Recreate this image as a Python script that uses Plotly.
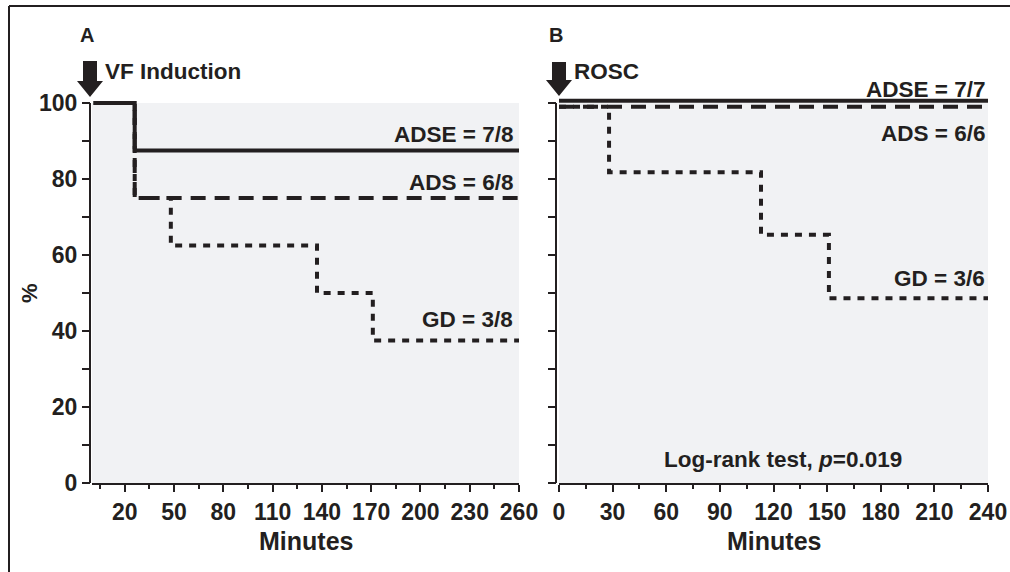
import plotly.graph_objects as go

# ---------------- data ----------------
# Panel A (from VF induction)
a_adse_t = [1, 26, 260]
a_adse_s = [100, 87.5, 87.5]
a_ads_t = [1, 26, 260]
a_ads_s = [100, 75, 75]
a_gd_t = [1, 26, 48, 137, 171, 260]
a_gd_s = [100, 75, 62.5, 50, 37.5, 37.5]

# Panel B (from ROSC)
b_adse_t = [0, 240]
b_adse_s = [100.6, 100.6]
b_ads_t = [0, 240]
b_ads_s = [99, 99]
b_gd_t = [0, 28, 113, 151, 240]
b_gd_s = [99, 81.8, 65.3, 48.6, 48.6]

a_xticks = [20, 50, 80, 110, 140, 170, 200, 230, 260]
b_xticks = [0, 30, 60, 90, 120, 150, 180, 210, 240]
y_ticks = [0, 20, 40, 60, 80, 100]

labels_a = ["ADSE = 7/8", "ADS = 6/8", "GD = 3/8"]
labels_a_y = [91.6, 79.2, 42.9]
labels_b = ["ADSE = 7/7", "ADS = 6/6", "GD = 3/6"]
labels_b_y = [103.6, 92.0, 53.7]

# ---------------- layout helpers ----------------
W, H = 1010, 572
BLK = "#231f20"
BG = "#f1f2f4"
FONT = "Liberation Sans, Arial, Helvetica, sans-serif"
YMAX = 102  # a little headroom so the lines drawn at 100 are not clipped


def px(x):
    return x / W


def py(y):
    return 1 - y / H


fig = go.Figure()

styles = {
    "ADSE": dict(color=BLK, width=4, dash="solid"),
    "ADS": dict(color=BLK, width=4, dash="15px,9px"),
    "GD": dict(color=BLK, width=4, dash="7px,7px"),
}

for t, s, name in [(a_gd_t, a_gd_s, "GD"), (a_ads_t, a_ads_s, "ADS"), (a_adse_t, a_adse_s, "ADSE")]:
    fig.add_trace(go.Scatter(x=t, y=s, mode="lines", line=dict(shape="hv", **styles[name]),
                             xaxis="x", yaxis="y", cliponaxis=False, showlegend=False))
for t, s, name in [(b_gd_t, b_gd_s, "GD"), (b_ads_t, b_ads_s, "ADS"), (b_adse_t, b_adse_s, "ADSE")]:
    fig.add_trace(go.Scatter(x=t, y=s, mode="lines", line=dict(shape="hv", **styles[name]),
                             xaxis="x2", yaxis="y2", cliponaxis=False, showlegend=False))

ppu = (483 - 103) / 100.0  # pixels per % unit
ydom = [py(483), py(483 - YMAX * ppu)]
tickfont = dict(family=FONT, size=23, color=BLK, weight="bold")

common_x = dict(showgrid=False, zeroline=False, showline=True, linewidth=2, linecolor=BLK,
                ticks="outside", ticklen=7, tickwidth=2, tickcolor=BLK, tickfont=tickfont,
                fixedrange=True, automargin=False)
common_y = dict(showgrid=False, zeroline=False, showline=False,
                ticks="outside", ticklen=8, tickwidth=2, tickcolor=BLK, tickfont=tickfont,
                range=[0, YMAX], tickvals=y_ticks, domain=ydom, anchor="free",
                minor=dict(tickvals=[10, 30, 50, 70, 90], ticks="outside", ticklen=8, tickwidth=2,
                           tickcolor=BLK),
                fixedrange=True, automargin=False)

fig.update_layout(
    width=W, height=H, autosize=False,
    margin=dict(l=0, r=0, t=0, b=0, pad=0, autoexpand=False),
    paper_bgcolor="white", plot_bgcolor="rgba(0,0,0,0)",
    font=dict(family=FONT, color=BLK, weight="bold"),
    xaxis=dict(domain=[px(92), px(519)], range=[0, 260], anchor="y",
               tickvals=a_xticks,
               minor=dict(tick0=5, dtick=15, ticks="outside", ticklen=4, tickwidth=2, tickcolor=BLK),
               **common_x),
    xaxis2=dict(domain=[px(559), px(988)], range=[0, 240], anchor="y2",
                tickvals=b_xticks,
                minor=dict(tick0=15, dtick=15, ticks="outside", ticklen=4, tickwidth=2, tickcolor=BLK),
                **common_x),
    yaxis=dict(position=px(90), showticklabels=True, **common_y),
    yaxis2=dict(position=px(556), showticklabels=False, **common_y),
)

ann = []
lab_font = dict(family=FONT, size=22.5, color=BLK, weight="bold")
for txt, yv in zip(labels_a, labels_a_y):
    ann.append(dict(x=px(515), y=py(483 - yv * ppu), text=txt, xanchor="right", font=lab_font))
for txt, yv in zip(labels_b, labels_b_y):
    ann.append(dict(x=px(987), y=py(483 - yv * ppu), text=txt, xanchor="right", font=lab_font))
ann.append(dict(x=125.3, y=6.1, xref="x2", yref="y2", text="Log-rank test, <i>p</i>=0.019",
                font=lab_font))

# panel letters, event labels, axis titles
title_font = dict(family=FONT, size=25, color=BLK, weight="bold")
ann += [
    dict(x=px(87), y=py(35), text="A", font=dict(family=FONT, size=20, color=BLK, weight="bold")),
    dict(x=px(556), y=py(35), text="B", font=dict(family=FONT, size=20, color=BLK, weight="bold")),
    dict(x=px(103), y=py(72), text="VF Induction", xanchor="left", font=lab_font),
    dict(x=px(572), y=py(72), text="ROSC", xanchor="left", font=lab_font),
    dict(x=px(305.5), y=py(541), text="Minutes", font=title_font),
    dict(x=px(773.5), y=py(541), text="Minutes", font=title_font),
    dict(x=px(30), y=py(293), text="%", textangle=-90, font=dict(family=FONT, size=22, color=BLK, weight="bold")),
]
for a in ann:
    a.setdefault("xref", "paper")
    a.setdefault("yref", "paper")
    a.setdefault("showarrow", False)
    a.setdefault("xanchor", "center")
    a.setdefault("yanchor", "middle")
fig.update_layout(annotations=ann)


def arrow_path(cx, top, head_top, tip, shaft_w=14, head_w=26):
    pts = [(cx - shaft_w / 2, top), (cx + shaft_w / 2, top), (cx + shaft_w / 2, head_top),
           (cx + head_w / 2, head_top), (cx, tip), (cx - head_w / 2, head_top),
           (cx - shaft_w / 2, head_top)]
    return "M " + " L ".join(f"{px(x):.5f},{py(y):.5f}" for x, y in pts) + " Z"


shapes = [
    # grey plot backgrounds (0-100 %)
    dict(type="rect", xref="x", yref="y", x0=0, x1=260, y0=0, y1=100,
         fillcolor=BG, line=dict(width=0), layer="below"),
    dict(type="rect", xref="x2", yref="y2", x0=0, x1=241, y0=0, y1=100,
         fillcolor=BG, line=dict(width=0), layer="below"),
    # y axis lines (0-100 %)
    dict(type="line", xref="paper", yref="y", x0=px(90), x1=px(90), y0=0, y1=100,
         line=dict(color=BLK, width=2)),
    dict(type="line", xref="paper", yref="y2", x0=px(556), x1=px(556), y0=0, y1=100,
         line=dict(color=BLK, width=2)),
    # event arrows
    dict(type="path", path=arrow_path(90, 61, 81, 97), xref="paper", yref="paper",
         fillcolor=BLK, line=dict(width=0)),
    dict(type="path", path=arrow_path(559, 62, 80, 96), xref="paper", yref="paper",
         fillcolor=BLK, line=dict(width=0)),
    # outer frame (top and left edges)
    dict(type="line", x0=px(9), x1=1.0, y0=py(6), y1=py(6), xref="paper", yref="paper",
         line=dict(color=BLK, width=2)),
    dict(type="line", x0=px(9), x1=px(9), y0=py(6), y1=0, xref="paper", yref="paper",
         line=dict(color=BLK, width=2)),
]
fig.update_layout(shapes=shapes)

fig.write_html(
    "out.html",
    config={"displayModeBar": False},
    post_script="document.body.style.margin='0';document.body.style.overflow='hidden';"
                "document.documentElement.style.overflow='hidden';",
)
